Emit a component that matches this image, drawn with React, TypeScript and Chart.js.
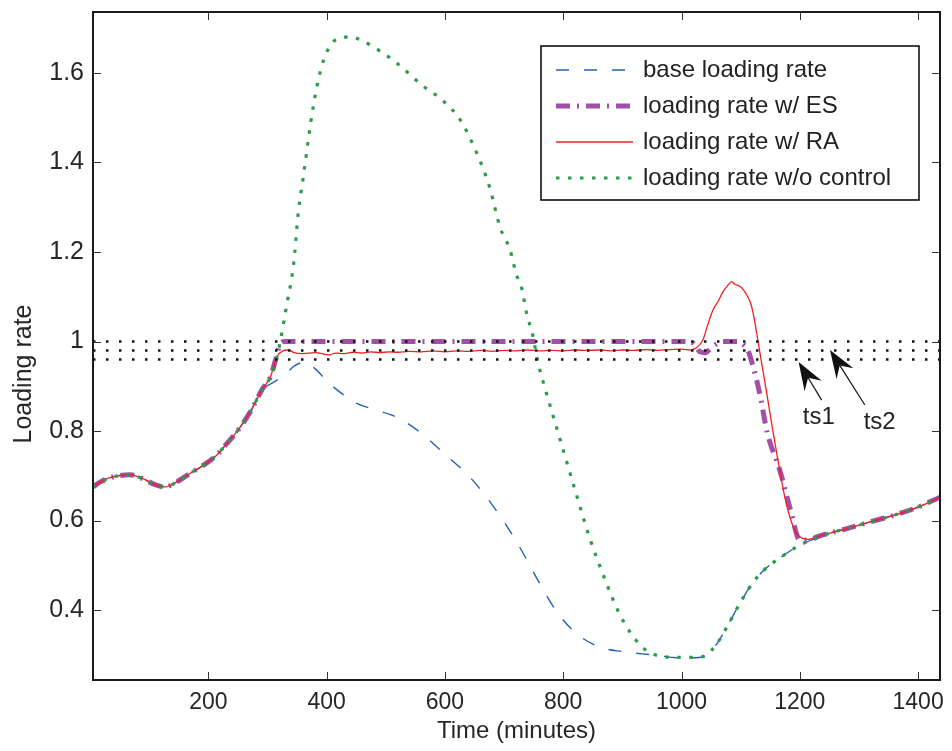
import { useEffect, useRef } from 'react';
import { Chart, registerables } from 'chart.js';

Chart.register(...registerables);

// ---------- axis ranges & ticks ----------
const X_MIN = 5;
const X_MAX = 1437;
const Y_MIN = 0.2436;
const Y_MAX = 1.7363;
const xTicks = [200, 400, 600, 800, 1000, 1200, 1400];
const yTicks = [0.4, 0.6, 0.8, 1.0, 1.2, 1.4, 1.6];
const yTitle = 'Loading rate';
const xTitle = 'Time (minutes)';

const seriesLabels = [
  'base loading rate',
  'loading rate w/ ES',
  'loading rate w/ RA',
  'loading rate w/o control',
];

// ---------- data (time in minutes, loading rate) ----------
// shared morning profile
const commonX = [5, 20, 40, 68, 90, 110, 127, 145, 170, 190, 214, 230, 248, 271, 291];
const commonY = [0.675, 0.688, 0.698, 0.702, 0.693, 0.68, 0.675, 0.685, 0.706, 0.722, 0.746, 0.77, 0.798, 0.843, 0.893];

// shared evening recovery (base & w/o control)
const recoveryX = [1040, 1060, 1080, 1100, 1120, 1140, 1166, 1200, 1233];
const recoveryY = [0.298, 0.325, 0.37, 0.418, 0.46, 0.49, 0.516, 0.545, 0.563];

// shared tail
const tailX = [1251, 1280, 1319, 1360, 1400, 1437];
const tailY = [0.572, 0.582, 0.597, 0.612, 0.63, 0.652];

// base loading rate
const baseX = [305, 329, 345, 364, 380, 394, 411, 451, 480, 520, 560, 600, 640, 680, 720, 760, 787, 820, 860, 900, 950, 1000, 1030];
const baseY = [0.905, 0.925, 0.945, 0.954, 0.94, 0.921, 0.899, 0.862, 0.848, 0.83, 0.795, 0.748, 0.7, 0.635, 0.555, 0.46, 0.4, 0.35, 0.318, 0.307, 0.3, 0.293, 0.294];

// loading rate w/ ES
const esX = [305, 316, 322, 330, 500, 700, 900, 1015, 1024, 1031, 1040, 1050, 1060, 1070, 1097, 1105, 1112, 1121, 1132, 1145, 1166, 1185, 1200, 1215, 1233];
const esY = [0.921, 0.97, 0.996, 1.0, 1.0, 1.0, 1.0, 1.0, 0.99, 0.977, 0.975, 0.985, 0.995, 1.0, 1.0, 0.993, 0.981, 0.944, 0.885, 0.796, 0.713, 0.62, 0.556, 0.557, 0.565];

// loading rate w/ RA
const raX = [305, 316, 336, 345, 360, 380, 395, 405, 415, 430, 445, 460, 475, 490, 505, 520, 540, 560, 580, 600, 620, 640, 660, 680, 700, 720, 740, 760, 780, 800, 820, 840, 860, 880, 900, 920, 940, 960, 980, 1000, 1015, 1025, 1036, 1045, 1053, 1062, 1070, 1078, 1085, 1090, 1098, 1105, 1112, 1117, 1121, 1125, 1129, 1137, 1144, 1155, 1165, 1175, 1185, 1195, 1205, 1215, 1233];
const raY = [0.921, 0.966, 0.981, 0.975, 0.973, 0.975, 0.972, 0.97, 0.974, 0.973, 0.976, 0.974, 0.977, 0.975, 0.977, 0.976, 0.978, 0.977, 0.979, 0.977, 0.979, 0.978, 0.98, 0.978, 0.98, 0.979, 0.981, 0.979, 0.98, 0.979, 0.981, 0.98, 0.981, 0.979, 0.981, 0.98, 0.982, 0.98, 0.982, 0.983, 0.981, 0.986, 1.003, 1.04, 1.07, 1.09, 1.111, 1.125, 1.134, 1.128, 1.124, 1.115, 1.1, 1.085, 1.064, 1.035, 1.003, 0.94, 0.885, 0.796, 0.72, 0.65, 0.6, 0.57, 0.56, 0.558, 0.565];

// loading rate w/o control
const noCtrlX = [305, 316, 322, 333, 344, 352, 361, 373, 384, 395, 409, 425, 440, 460, 482, 519, 561, 595, 626, 645, 662, 676, 693, 710, 721, 730, 738, 749, 757, 770, 795, 820, 846, 871, 896, 930, 955, 997, 1030];
const noCtrlY = [0.921, 0.966, 1.003, 1.085, 1.171, 1.287, 1.372, 1.488, 1.573, 1.629, 1.667, 1.678, 1.681, 1.672, 1.656, 1.622, 1.573, 1.54, 1.495, 1.447, 1.395, 1.343, 1.256, 1.205, 1.149, 1.118, 1.064, 1.011, 0.955, 0.892, 0.78, 0.668, 0.556, 0.467, 0.389, 0.322, 0.3, 0.294, 0.295];

// threshold levels (dotted black lines)
const thresholds = [1.0, 0.98, 0.96];

// arrow annotations (data units)
const arrowLabels = ['ts1', 'ts2'];
const arrowTipX = [1198, 1251];
const arrowTipY = [0.954, 0.981];
const arrowTailX = [1237, 1310];
const arrowTailY = [0.869, 0.858];
const arrowTextX = [1232, 1335];
const arrowTextY = [0.831, 0.82];

// ---------- helpers ----------
const FONT = "'Liberation Sans', Arial, Helvetica, sans-serif";
const pts = (xs: number[], ys: number[]) => xs.map((x, i) => ({ x, y: ys[i] }));
const join = (...parts: [number[], number[]][]) => {
  const out: { x: number; y: number }[] = [];
  parts.forEach(([xs, ys]) => out.push(...pts(xs, ys)));
  return out;
};

const styles = [
  { color: '#2560b8', width: 1.4, dash: [13, 15] },
  { color: '#a24fa8', width: 5, dash: [14, 7, 2, 7] },
  { color: '#ee2020', width: 1.3, dash: [] as number[] },
  { color: '#2f9a4a', width: 3.2, dash: [3.5, 8.5] },
];

const decorPlugin = {
  id: 'decor',
  afterDatasetsDraw(chart: any) {
    const { ctx, chartArea: a, scales } = chart;
    const xs = scales.x;
    const ys = scales.y;
    ctx.save();
    // inward tick marks
    ctx.setLineDash([]);
    ctx.strokeStyle = '#333';
    ctx.lineWidth = 1;
    ctx.beginPath();
    xTicks.forEach((v) => {
      const p = Math.round(xs.getPixelForValue(v)) + 0.5;
      ctx.moveTo(p, a.bottom);
      ctx.lineTo(p, a.bottom - 8);
      ctx.moveTo(p, a.top);
      ctx.lineTo(p, a.top + 8);
    });
    yTicks.forEach((v) => {
      const p = Math.round(ys.getPixelForValue(v)) + 0.5;
      ctx.moveTo(a.left, p);
      ctx.lineTo(a.left + 8, p);
      ctx.moveTo(a.right, p);
      ctx.lineTo(a.right - 8, p);
    });
    ctx.stroke();
    // frame
    ctx.lineWidth = 2;
    ctx.strokeStyle = '#1a1a1a';
    ctx.strokeRect(a.left, a.top, a.right - a.left, a.bottom - a.top);

    // y axis title
    ctx.save();
    ctx.translate(24, (a.top + a.bottom) / 2 + 28);
    ctx.rotate(-Math.PI / 2);
    ctx.font = `25px ${FONT}`;
    ctx.fillStyle = '#262626';
    ctx.textAlign = 'center';
    ctx.textBaseline = 'middle';
    ctx.fillText(yTitle, 0, 0);
    ctx.restore();

    // arrows
    arrowLabels.forEach((label, i) => {
      const tx = xs.getPixelForValue(arrowTipX[i]);
      const ty = ys.getPixelForValue(arrowTipY[i]);
      const bx = xs.getPixelForValue(arrowTailX[i]);
      const by = ys.getPixelForValue(arrowTailY[i]);
      const dx = bx - tx;
      const dy = by - ty;
      const len = Math.hypot(dx, dy);
      const ux = dx / len;
      const uy = dy / len;
      const nx = -uy;
      const ny = ux;
      const L = 28;
      const W = 10;
      ctx.strokeStyle = '#111';
      ctx.lineWidth = 1.2;
      ctx.beginPath();
      ctx.moveTo(tx + ux * L * 0.6, ty + uy * L * 0.6);
      ctx.lineTo(bx, by);
      ctx.stroke();
      ctx.fillStyle = '#111';
      ctx.beginPath();
      ctx.moveTo(tx, ty);
      ctx.lineTo(tx + ux * L + nx * W, ty + uy * L + ny * W);
      ctx.lineTo(tx + ux * L * 0.65, ty + uy * L * 0.65);
      ctx.lineTo(tx + ux * L - nx * W, ty + uy * L - ny * W);
      ctx.closePath();
      ctx.fill();
      ctx.font = `24px ${FONT}`;
      ctx.fillStyle = '#222';
      ctx.textAlign = 'center';
      ctx.textBaseline = 'middle';
      ctx.fillText(label, xs.getPixelForValue(arrowTextX[i]), ys.getPixelForValue(arrowTextY[i]));
    });

    // legend box
    const bw = 378;
    const bh = 154;
    const bl = a.right - 21 - bw;
    const bt = a.top + 34;
    ctx.fillStyle = '#fff';
    ctx.fillRect(bl, bt, bw, bh);
    ctx.strokeStyle = '#111';
    ctx.lineWidth = 1.6;
    ctx.setLineDash([]);
    ctx.strokeRect(bl, bt, bw, bh);
    seriesLabels.forEach((label, i) => {
      const cy = bt + 24 + i * 36;
      const s = styles[i];
      ctx.strokeStyle = s.color;
      ctx.lineWidth = s.width;
      ctx.setLineDash(s.dash);
      ctx.lineCap = 'butt';
      ctx.beginPath();
      ctx.moveTo(bl + 15, cy);
      ctx.lineTo(bl + 92, cy);
      ctx.stroke();
      ctx.setLineDash([]);
      ctx.font = `24px ${FONT}`;
      ctx.fillStyle = '#222';
      ctx.textAlign = 'left';
      ctx.textBaseline = 'middle';
      ctx.fillText(label, bl + 102, cy);
    });
    ctx.restore();
  },
};

export default function App() {
  const ref = useRef<HTMLCanvasElement | null>(null);

  useEffect(() => {
    if (!ref.current) return;
    const seriesData = [
      join([commonX, commonY], [baseX, baseY], [recoveryX, recoveryY], [tailX, tailY]),
      join([commonX, commonY], [esX, esY], [tailX, tailY]),
      join([commonX, commonY], [raX, raY], [tailX, tailY]),
      join([commonX, commonY], [noCtrlX, noCtrlY], [recoveryX, recoveryY], [tailX, tailY]),
    ];
    const orders = [4, 3, 2, 1];
    const datasets: any[] = seriesData.map((d, i) => ({
      label: seriesLabels[i],
      data: d,
      borderColor: styles[i].color,
      borderWidth: styles[i].width,
      borderDash: styles[i].dash,
      pointRadius: 0,
      fill: false,
      cubicInterpolationMode: 'monotone',
      order: orders[i],
    }));
    thresholds.forEach((t) => {
      datasets.push({
        label: 'threshold',
        data: [
          { x: X_MIN, y: t },
          { x: X_MAX, y: t },
        ],
        borderColor: '#111',
        borderWidth: 2.5,
        borderDash: [2.5, 10.5],
        pointRadius: 0,
        fill: false,
        order: 0,
      });
    });

    const chart = new Chart(ref.current, {
      type: 'line',
      data: { datasets },
      options: {
        animation: false,
        responsive: false,
        events: [],
        layout: { padding: { left: 0, top: 12, right: 12, bottom: 0 } },
        plugins: { legend: { display: false }, tooltip: { enabled: false } },
        scales: {
          x: {
            type: 'linear',
            min: X_MIN,
            max: X_MAX,
            grid: { display: false, drawTicks: false },
            border: { display: false },
            afterBuildTicks: (scale: any) => {
              scale.ticks = xTicks.map((v) => ({ value: v }));
            },
            afterFit: (scale: any) => {
              scale.height = 71;
              scale.paddingLeft = 0;
              scale.paddingRight = 0;
            },
            ticks: {
              autoSkip: false,
              maxRotation: 0,
              padding: 9,
              color: '#262626',
              font: { family: FONT, size: 23 },
              callback: (v: any) => String(v),
            },
            title: {
              display: true,
              text: xTitle,
              color: '#262626',
              font: { family: FONT, size: 24 },
              padding: { top: 0, bottom: 5 },
            },
          },
          y: {
            type: 'linear',
            min: Y_MIN,
            max: Y_MAX,
            grid: { display: false, drawTicks: false },
            border: { display: false },
            afterBuildTicks: (scale: any) => {
              scale.ticks = yTicks.map((v) => ({ value: v }));
            },
            afterFit: (scale: any) => {
              scale.width = 93;
              scale.paddingTop = 0;
              scale.paddingBottom = 0;
            },
            ticks: {
              autoSkip: false,
              padding: 9,
              color: '#262626',
              font: { family: FONT, size: 25 },
              callback: (v: any) => String(Number(Number(v).toFixed(1))),
            },
            title: { display: false },
          },
        },
      },
      plugins: [decorPlugin],
    });
    return () => chart.destroy();
  }, []);

  return (
    <div style={{ position: 'absolute', left: 0, top: 0, width: 952, height: 751, background: '#fff' }}>
      <canvas ref={ref} width={952} height={751} style={{ display: 'block' }} />
    </div>
  );
}
